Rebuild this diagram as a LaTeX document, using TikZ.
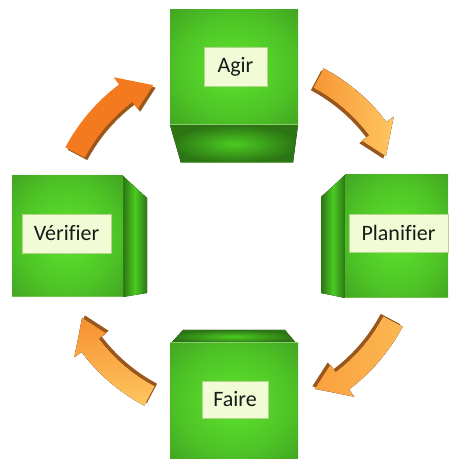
\documentclass[tikz,border=0pt]{standalone}
\usepackage{fontspec}
\setmainfont{Carlito}[Ligatures=NoCommon]
\usetikzlibrary{calc}

\definecolor{boxlight}{HTML}{5EE42E}
\definecolor{boxmid}{HTML}{4EC426}
\definecolor{boxdark}{HTML}{3C9621}
\definecolor{boxedge}{HTML}{337F1C}
\definecolor{sidelight}{HTML}{4BCB22}
\definecolor{sidedark}{HTML}{2C7414}
\definecolor{rimgreen}{HTML}{8CCB6A}
\definecolor{tagfill}{HTML}{F1FBD6}
\definecolor{tagline}{HTML}{B4D48A}
\definecolor{rimbrown}{HTML}{9A561B}
\definecolor{orgdeep}{HTML}{F47A1F}
\definecolor{orgmid}{HTML}{F9A13E}
\definecolor{orglight}{HTML}{FFC660}

\pgfdeclareradialshading{cubeglow}{\pgfpoint{0bp}{0bp}}{%
  color(0bp)=(boxlight); color(22bp)=(boxmid); color(42bp)=(boxdark);
  color(58bp)=(boxedge); color(72bp)=(boxedge)}

\tikzset{
  face/.style={shading=cubeglow},
  side/.style={left color=sidedark, right color=sidedark, middle color=sidelight},
  lid/.style={inner color=sidelight, outer color=sidedark},
  rim/.style={draw=rimgreen, line width=1pt},
  tag/.style={draw=tagline, fill=tagfill, line width=0.8pt, inner sep=0pt,
    font=\fontsize{22}{26}\selectfont, text=black!90},
}

% curved arrow of the cycle: #1 = angle of the tail, #2 = fill
\newcommand{\cyclearrow}[2]{%
  \pgfmathsetmacro{\arrback}{#1-25}
  \pgfmathsetmacro{\arrtip}{#1-34}
  \pgfmathsetmacro{\arrmid}{#1-17}
  \fill[rimbrown, shift={(234,222)}, shift={(\arrmid+180:3.5)}]
    (#1:191) arc[start angle=#1, end angle=\arrback, radius=191]
    -- (\arrback:200) -- (\arrtip:172) -- (\arrback:160) -- (\arrback:169)
    arc[start angle=\arrback, end angle=#1, radius=169] -- cycle;
  \fill[#2, shift={(234,222)}]
    (#1:191) arc[start angle=#1, end angle=\arrback, radius=191]
    -- (\arrback:200) -- (\arrtip:172) -- (\arrback:160) -- (\arrback:169)
    arc[start angle=\arrback, end angle=#1, radius=169] -- cycle;
}

\begin{document}
\begin{tikzpicture}[x=1pt, y=1pt]
  \useasboundingbox (0,0) rectangle (450,459);

  % Agir
  \fill[lid] (170,334) -- (298,334) -- (293,296) -- (181,296) -- cycle;
  \draw[rim, draw opacity=0.6] (181,296) -- (293,296);
  \shade[face] (170,334) rectangle (298,449);
  \draw[rim] (170,334) -- (298,334);
  \node[tag, minimum width=63pt, minimum height=39pt] (agir) at (235.5,392.5) {Agir};

  % Planifier
  \fill[side] (321,262) -- (345,284) -- (345,161) -- (321,166) -- cycle;
  \shade[face] (345,161) rectangle (448,284);
  \draw[rim, draw opacity=0.6] (345,161) -- (448,161);
  \node[tag, minimum width=99pt, minimum height=38pt] (planifier) at (398.5,226) {Planifier};

  % Faire
  \fill[lid] (183,129) -- (285,129) -- (296,116) -- (171,116) -- cycle;
  \shade[face] (170,0) rectangle (298,116);
  \draw[rim] (170,116) -- (298,116);
  \node[tag, minimum width=66pt, minimum height=37pt] (faire) at (235,59.5) {Faire};

  % Vérifier
  \fill[side] (123,283) -- (147,261) -- (147,166) -- (123,162) -- cycle;
  \shade[face] (12,162) rectangle (123,283);
  \draw[rim, draw opacity=0.6] (12,162) -- (123,162);
  \node[tag, minimum width=89pt, minimum height=39pt] (verifier) at (66.5,225.5) {Vérifier};

  % arrows of the cycle
  \cyclearrow{152}{orgdeep}
  \cyclearrow{62}{left color=orgmid!70!orgdeep, right color=orglight}
  \cyclearrow{-28}{left color=orgmid, right color=orglight!60!orgmid}
  \cyclearrow{-118}{top color=orgmid!55!orgdeep, bottom color=orglight}
\end{tikzpicture}
\end{document}
